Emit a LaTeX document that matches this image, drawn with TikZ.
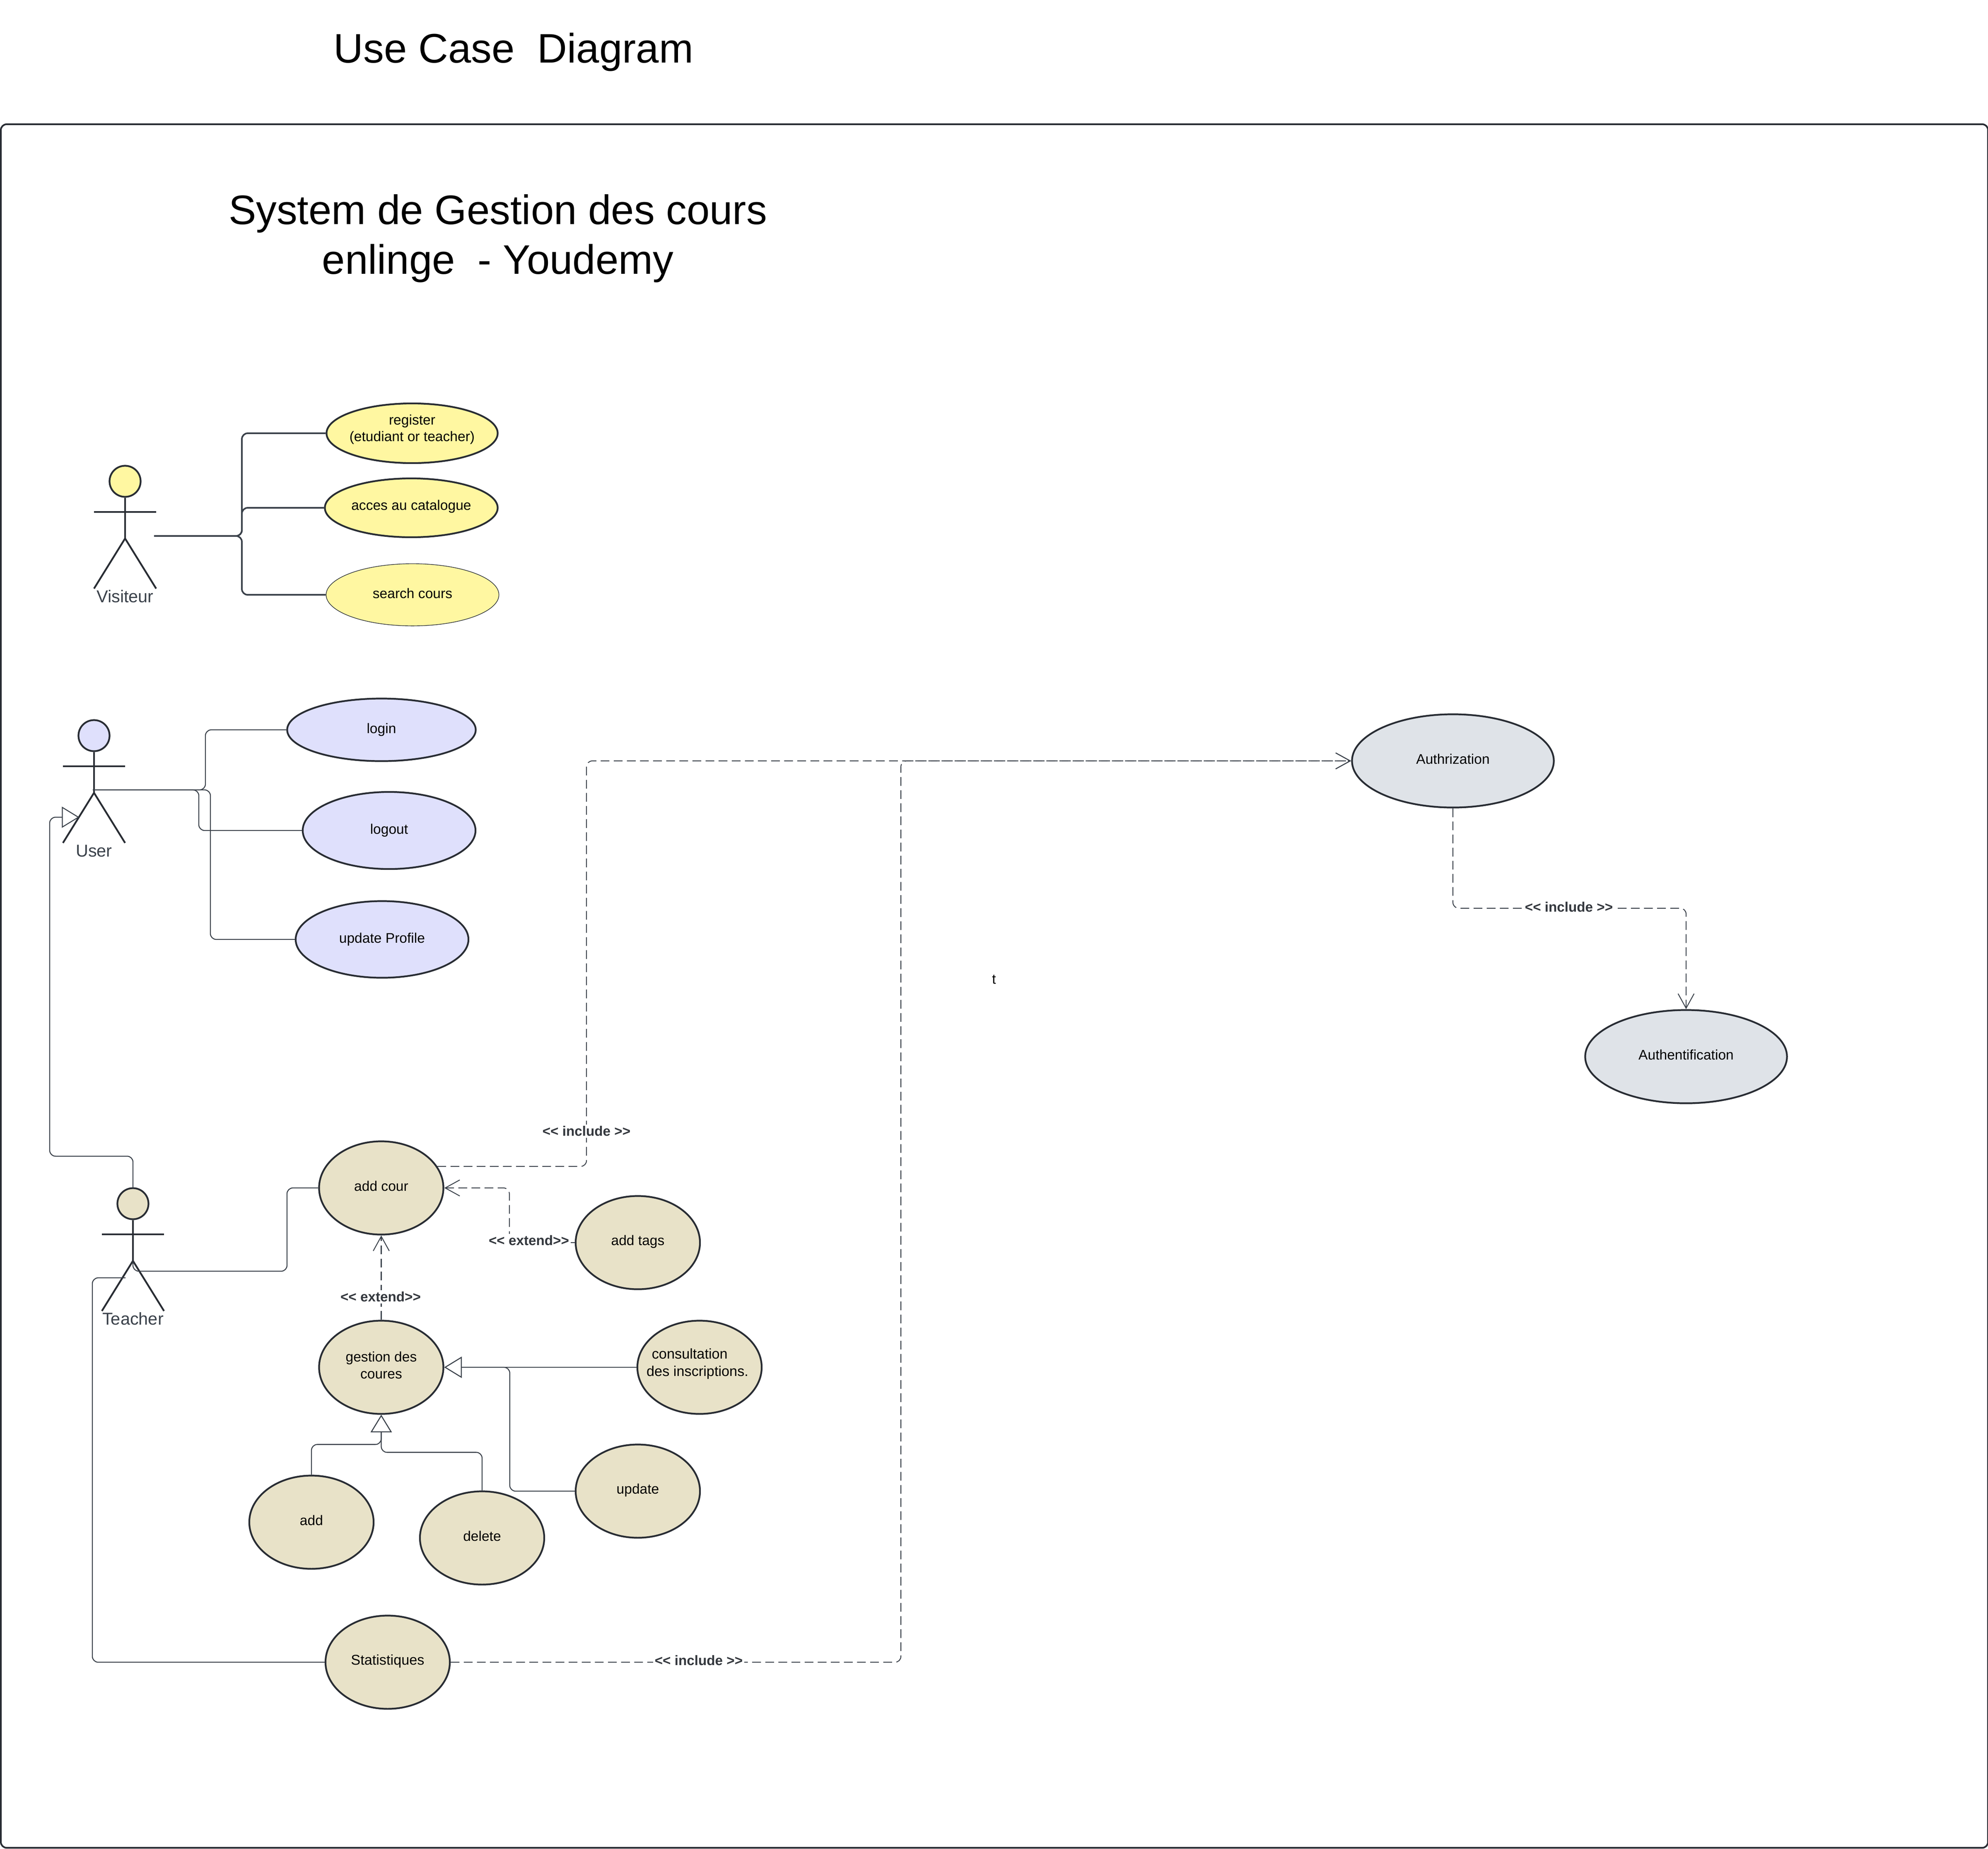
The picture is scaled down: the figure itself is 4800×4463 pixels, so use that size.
\documentclass[tikz,border=0pt]{standalone}
\usepackage{fontspec}
\setmainfont{Liberation Sans}
\usetikzlibrary{shapes.geometric,arrows.meta}
\definecolor{ink}{HTML}{282C33}
\definecolor{wire}{HTML}{3A414A}
\definecolor{ucyellow}{HTML}{FFF7A1}
\definecolor{uclav}{HTML}{DFE0FC}
\definecolor{uckhaki}{HTML}{E8E2C8}
\definecolor{ucgray}{HTML}{DFE3E8}
\tikzset{
  usecase/.style={ellipse,draw=ink,line width=1.2pt,inner sep=0pt,minimum width=3cm,minimum height=2.25cm},
  lbl/.style={font=\fontsize{9.55}{11.5}\selectfont,text=black,align=center},
  lblbig/.style={font=\fontsize{9.75}{12}\selectfont,text=black,align=center},
  title/.style={font=\fontsize{28.3}{34.1}\selectfont,text=black,align=center},
  tag/.style={font=\fontsize{9.45}{11}\selectfont\bfseries,text=ink!95,fill=white,inner sep=1pt},
  wirea/.style={draw=wire,line width=.65pt,rounded corners=4pt},
  wireb/.style={draw=wire,line width=1.1pt,rounded corners=4pt},
  dashline/.style={wirea,line width=.6pt,dash pattern=on 6pt off 3pt,-{Straight Barb[length=10pt,width=11pt]}},
  gen/.style={wirea,-{Triangle[open,fill=white,length=12pt,width=14.5pt]}},
  stick/.style={draw=ink,line width=1.2pt},
  actorhead/.style={circle,draw=ink,line width=1.2pt,inner sep=0pt,minimum size=.75cm},
  actorname/.style={font=\fontsize{11.8}{14}\selectfont,text=wire}
}
\newcommand{\drawactor}[5]{%
  \begin{scope}[shift={(#2,#3)}]
    \node[actorhead,fill=#4] (#1Head) at (0,0) {};
    \coordinate (#1Hip) at (0,138);
    \draw[stick] (#1Head.south) -- (#1Hip);
    \draw[stick] (-75,74) -- (75,74);
    \draw[stick] (-75,259) -- (#1Hip) -- (75,259);
    \node[actorname] (#1Name) at (0,278) {#5};
  \end{scope}}
\begin{document}
\begin{tikzpicture}[x=0.01cm,y=-0.01cm]
\useasboundingbox (0,0) rectangle (4800,4463);
\draw[draw=ink,line width=1.15pt,rounded corners=4pt] (2,300) rectangle (4800,4461);

\node[title] (mainTitle) at (1240,126) {Use Case\ \ Diagram};
\node[title] (sysTitle) at (1202,576) {System de Gestion des cours\\enlinge\ \ - Youdemy};

% use cases
\node[usecase,fill=ucyellow,minimum width=4.13cm,minimum height=1.44cm,label={[lbl,yshift=2.6pt]center:register\\(etudiant or teacher)}] (reg) at (995,1046) {};
\node[usecase,fill=ucyellow,minimum width=4.17cm,minimum height=1.42cm,label={[lbl,yshift=1pt]center:acces au catalogue}] (cat) at (993,1226) {};
\node[usecase,fill=ucyellow,line width=.4pt,minimum width=4.17cm,minimum height=1.5cm,label={[lbl,yshift=1pt]center:search cours}] (search) at (996,1436) {};

\node[usecase,fill=uclav,minimum width=4.55cm,minimum height=1.51cm,label={[lbl]center:login}] (login) at (921,1762) {};
\node[usecase,fill=uclav,minimum width=4.17cm,minimum height=1.86cm,label={[lbl]center:logout}] (logout) at (939.5,2005) {};
\node[usecase,fill=uclav,minimum width=4.17cm,minimum height=1.85cm,label={[lbl]center:update Profile}] (profile) at (922.5,2268) {};

\node[usecase,fill=uckhaki,label={[lbl,yshift=1.4pt]center:add cour}] (addc) at (920.5,2868) {};
\node[usecase,fill=uckhaki,label={[lbl,yshift=.6pt]center:add tags}] (tags) at (1540,3000) {};
\node[usecase,fill=uckhaki,label={[lbl,yshift=1.4pt]center:gestion des\\coures}] (gest) at (920.5,3301) {};
\node[usecase,fill=uckhaki,label={[lblbig,align=left,xshift=-1.4pt,yshift=2.4pt]center:\hspace*{3.6pt}consultation\\des inscriptions.}] (cons) at (1689,3301) {};
\node[usecase,fill=uckhaki,label={[lbl,yshift=.6pt]center:update}] (upd) at (1540,3600) {};
\node[usecase,fill=uckhaki,label={[lbl,yshift=1.4pt]center:add}] (add) at (752,3675) {};
\node[usecase,fill=uckhaki,label={[lbl,yshift=1.4pt]center:delete}] (del) at (1164,3713) {};
\node[usecase,fill=uckhaki,label={[lblbig,yshift=.6pt]center:Statistiques}] (stat) at (936,4013) {};

\node[usecase,fill=ucgray,minimum width=4.87cm,label={[lbl,yshift=1.4pt]center:Authrization}] (auth) at (3508,1837) {};
\node[usecase,fill=ucgray,minimum width=4.87cm,label={[lbl,yshift=1.4pt]center:Authentification}] (authn) at (4071,2551) {};

% actors
\drawactor{vis}{302}{1162}{ucyellow}{Visiteur}
\drawactor{usr}{227}{1776}{uclav}{User}
\drawactor{tch}{321}{2906}{uckhaki}{Teacher}

\coordinate (visOut) at (372,1294);
\coordinate (usrOut) at (224,1907);
\coordinate (usrLeg) at (191.5,1973);
\coordinate (tchOutA) at (321,3044);
\coordinate (tchOutB) at (303,3085);

% plain associations
\draw[wireb] (visOut) -- ++(212,0) |- (reg.west);
\draw[wireb] (visOut) -- ++(212,0) |- (cat.west);
\draw[wireb] (visOut) -- ++(212,0) |- (search.west);
\draw[wirea] (usrOut) -- ++(272,0) |- (login.west);
\draw[wirea] (usrOut) -- ++(256,0) |- (logout.west);
\draw[wirea] (usrOut) -- ++(284,0) |- (profile.west);
\draw[wirea] (tchOutA) -- ++(0,25) -- ++(372,0) |- (addc.west);
\draw[wirea] (tchOutB) -- ++(-80,0) |- (stat.west);

% generalisations
\draw[gen] (tchHead.north) -- ++(0,-75) -- ++(-201,0) |- (usrLeg);
\draw[gen] (cons.west) -- (gest.east);
\draw[gen] (upd.west) -- ++(-157,0) |- (gest.east);
\draw[gen] (add.north) -- ++(0,-73) -| (gest.south);
\draw[gen] (del.north) -- ++(0,-92) -| (gest.south);

% dependencies
\draw[dashline] (addc.21) -- ++(360,0) |- (auth.west);
\draw[dashline] (stat.east) -- ++(1087,0) |- (auth.west);
\draw[dashline] (auth.south) -- ++(0,241) -| (authn.north);
\draw[dashline] (tags.west) -- ++(-158,0) |- (addc.east);
\draw[dashline] (gest.north) -- (addc.south);

% stereotype tags
\node[tag] (incA) at (1416,2731) {<{}< include >{}>};
\node[tag] (incB) at (1687,4009) {<{}< include >{}>};
\node[tag] (incC) at (3788,2190) {<{}< include >{}>};
\node[tag] (extA) at (1277,2995) {<{}< extend>{}>};
\node[tag] (extB) at (919,3131) {<{}< extend>{}>};

\node[lbl] (stray) at (2400,2365) {t};
\end{tikzpicture}
\end{document}
